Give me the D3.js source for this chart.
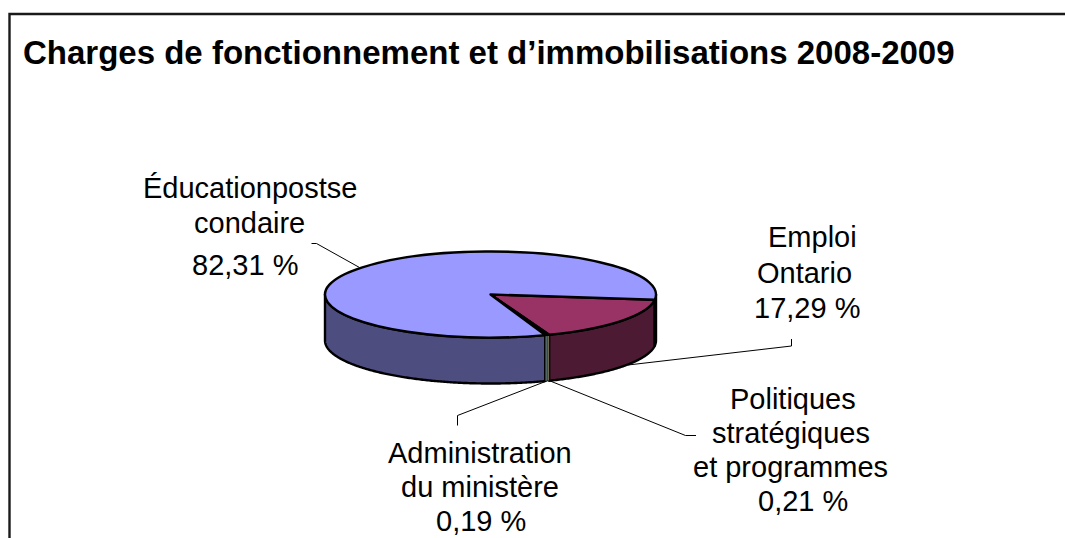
<!DOCTYPE html>
<html>
<head>
    <meta charset="utf-8">
    <title>Charges de fonctionnement et d’immobilisations 2008-2009</title>
    <script src="https://d3js.org/d3.v7.min.js"></script>
    <style>
        html, body { margin: 0; padding: 0; background: #fff; }
        svg { display: block; }
        text { font-family: "Liberation Sans", Arial, sans-serif; fill: #000; }
    </style>
</head>
<body>
<div id="container"></div>
<script>
    var title = "Charges de fonctionnement et d’immobilisations 2008-2009";

    // data
    var categories = ["Emploi Ontario", "Politiques stratégiques et programmes", "Administration du ministère", "Éducation postsecondaire"];
    var values = [17.29, 0.21, 0.19, 82.31];
    var topColors = ["#993366", "#ffffcc", "#ccffff", "#9999ff"];
    var sideColors = ["#4d1a33", "#808066", "#668080", "#4d4d80"];

    var labelLines = [
        ["Emploi", "Ontario", "17,29 %"],
        ["Politiques", "stratégiques", "et programmes", "0,21 %"],
        ["Administration", "du ministère", "0,19 %"],
        ["Éducationpostse", "condaire", "82,31 %"]
    ];

    // layout
    var svg_width = 1065,
        svg_height = 538,
        cx = 490.5,
        cy = 294.5,
        rx = 165.5,
        ry = 43,
        depth = 46,
        rotation = 97 * Math.PI / 180;

    var labelX = [[768, 757, 754], [730, 712, 693, 758], [388, 401, 436], [143, 194, 192]];
    var labelY = [[247, 283, 318], [409, 443, 477, 511], [463, 497, 531], [198, 233, 275]];
    var leaders = [
        [[791.5, 339], [791.5, 346], [628, 365]],
        [[696, 435.5], [685.5, 435.5], [549, 380.5]],
        [[457.5, 425.5], [457.5, 415.5], [548, 380.5]],
        [[311.5, 243.5], [316.5, 243.5], [359.5, 267.5]]
    ];

    var svg = d3.select("#container").append("svg")
        .attr("width", svg_width)
        .attr("height", svg_height);

    // frame, only top and left are inside the crop
    svg.append("path")
        .attr("d", d3.line()([[9.5, svg_height], [9.5, 14], [svg_width, 14]]))
        .attr("fill", "none")
        .attr("stroke", "#1a1a1a")
        .attr("stroke-width", 2.4);

    svg.append("text")
        .attr("x", 23)
        .attr("y", 64)
        .attr("font-size", 33)
        .attr("font-weight", "bold")
        .text(title);

    var pie = d3.pie().sort(null)
        .startAngle(rotation)
        .endAngle(rotation + 2 * Math.PI);
    var slices = pie(values);

    // leader lines go under the pie
    svg.append("g").selectAll("path")
        .data(leaders)
        .enter().append("path")
        .attr("d", d3.line())
        .attr("fill", "none")
        .attr("stroke", "#000")
        .attr("stroke-width", 1);

    // point on the rim of the tilted pie
    function rim(a, dy) {
        return [cx + rx * Math.sin(a), cy - ry * Math.cos(a) + dy];
    }

    // side wall piece between two angles
    function wall(a0, a1) {
        var angles = d3.range(a0, a1, 0.01).concat([a1]);
        var top = angles.map(function (a) { return rim(a, 0); });
        var bottom = angles.slice().reverse().map(function (a) { return rim(a, depth); });
        return d3.line()(top.concat(bottom)) + "Z";
    }

    // only the front half of the pie shows its wall
    var walls = [];
    slices.forEach(function (d, i) {
        [0, 2 * Math.PI].forEach(function (turn) {
            var a0 = Math.max(d.startAngle, Math.PI / 2 + turn),
                a1 = Math.min(d.endAngle, 3 * Math.PI / 2 + turn);
            if (a1 > a0) walls.push({ a0: a0, a1: a1, color: sideColors[i] });
        });
    });
    // thin walls last, with a fine outline, or they turn solid black
    walls.sort(function (a, b) { return (b.a1 - b.a0) - (a.a1 - a.a0); });

    svg.append("g").selectAll("path")
        .data(walls)
        .enter().append("path")
        .attr("d", function (d) { return wall(d.a0, d.a1); })
        .attr("fill", function (d) { return d.color; })
        .attr("stroke", "#000")
        .attr("stroke-width", function (d) { return d.a1 - d.a0 < 0.05 ? 0.5 : 2.4; })
        .attr("stroke-linejoin", "round");

    var arc = d3.arc().innerRadius(0).outerRadius(rx);

    svg.append("g")
        .attr("transform", "translate(" + cx + "," + cy + ") scale(1," + (ry / rx) + ")")
        .selectAll("path")
        .data(slices)
        .enter().append("path")
        .attr("d", arc)
        .attr("fill", function (d, i) { return topColors[i]; })
        .attr("stroke", "#000")
        .attr("stroke-width", 2.4)
        .attr("stroke-linejoin", "round")
        .attr("vector-effect", "non-scaling-stroke");

    // labels, line by line since the original wraps them by hand
    labelLines.forEach(function (lines, i) {
        svg.append("g").selectAll("text")
            .data(lines)
            .enter().append("text")
            .attr("x", function (d, j) { return labelX[i][j]; })
            .attr("y", function (d, j) { return labelY[i][j]; })
            .attr("font-size", 29)
            .text(function (d) { return d; });
    });
</script>
</body>
</html>
